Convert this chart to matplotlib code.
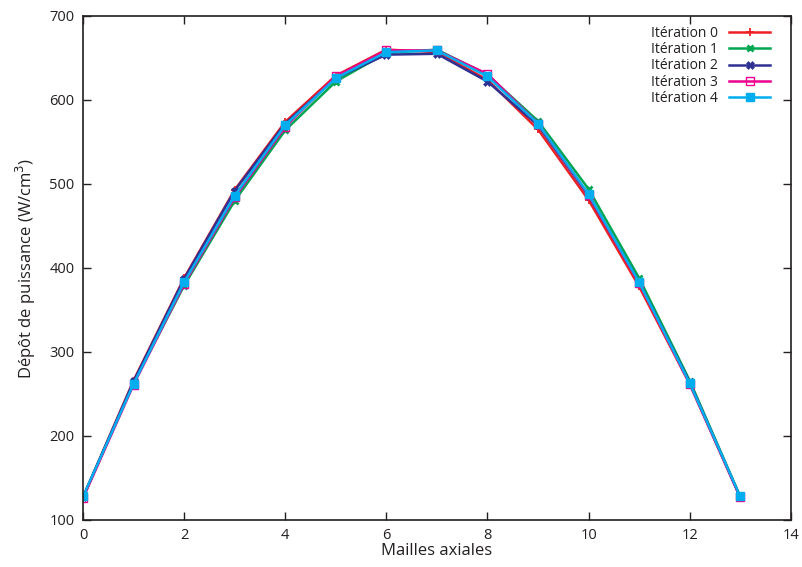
import matplotlib
matplotlib.use("Agg")
import matplotlib.pyplot as plt

mailles = list(range(14))
iter0 = [127, 266, 388, 493, 574, 629, 660, 657, 624, 565, 481, 378, 262, 127]
iter1 = [127, 263, 379, 480, 564, 622, 656, 660, 630, 575, 494, 388, 266, 128]
iter2 = [127, 265, 387, 492, 572, 626, 654, 655, 622, 570, 486, 383, 264, 127]
iter3 = [126, 261, 381, 484, 568, 628, 659, 659, 631, 572, 487, 382, 262, 127]
iter4 = [128, 262, 383, 486, 570, 626, 657, 659, 628, 572, 488, 383, 263, 128]
labels = ["Itération 0", "Itération 1", "Itération 2", "Itération 3", "Itération 4"]

plt.rcParams['font.family'] = ['Open Sans', 'DejaVu Sans']

fig = plt.figure(figsize=(8.02, 5.67), dpi=100)
ax = fig.add_axes([0.1035, 0.0829, 0.8825, 0.8889])

styles = [
    dict(color='#ed2024', marker='+', ms=6, mew=1.3),
    dict(color='#00a650', marker='x', ms=5, mew=2.0),
    dict(color='#2e3192', marker='X', ms=6, mew=0.4),
    dict(color='#ec008c', marker='s', ms=5.5, mew=1.0, mfc='none'),
    dict(color='#00aeef', marker='s', ms=5.5, mew=1),
]
for ys, lab, st in zip([iter0, iter1, iter2, iter3, iter4], labels, styles):
    ax.plot(mailles, ys, lw=1.8, label=lab, **st)

ax.set_xlim(0, 14)
ax.set_ylim(100, 700)
ax.set_xticks(range(0, 15, 2))
ax.set_yticks(range(100, 701, 100))
ax.tick_params(direction='in', length=6, width=1, top=True, right=True,
               labelsize=10.5, colors='#231f20', pad=6)
for s in ax.spines.values():
    s.set_linewidth(1.2)
    s.set_color('#231f20')
ax.set_xlabel("Mailles axiales", fontsize=12, color='#231f20', labelpad=0)
ax.set_ylabel("Dépôt de puissance (W/cm$^3$)", fontsize=12, color='#231f20', labelpad=8)

leg = ax.legend(loc='upper right', frameon=False, markerfirst=False, fontsize=10,
                handlelength=3, handletextpad=0.8, labelspacing=0.1,
                borderaxespad=0.3, bbox_to_anchor=(0.985, 1.0))
for t in leg.get_texts():
    t.set_color('#231f20')

fig.savefig("out.png", dpi=100)
